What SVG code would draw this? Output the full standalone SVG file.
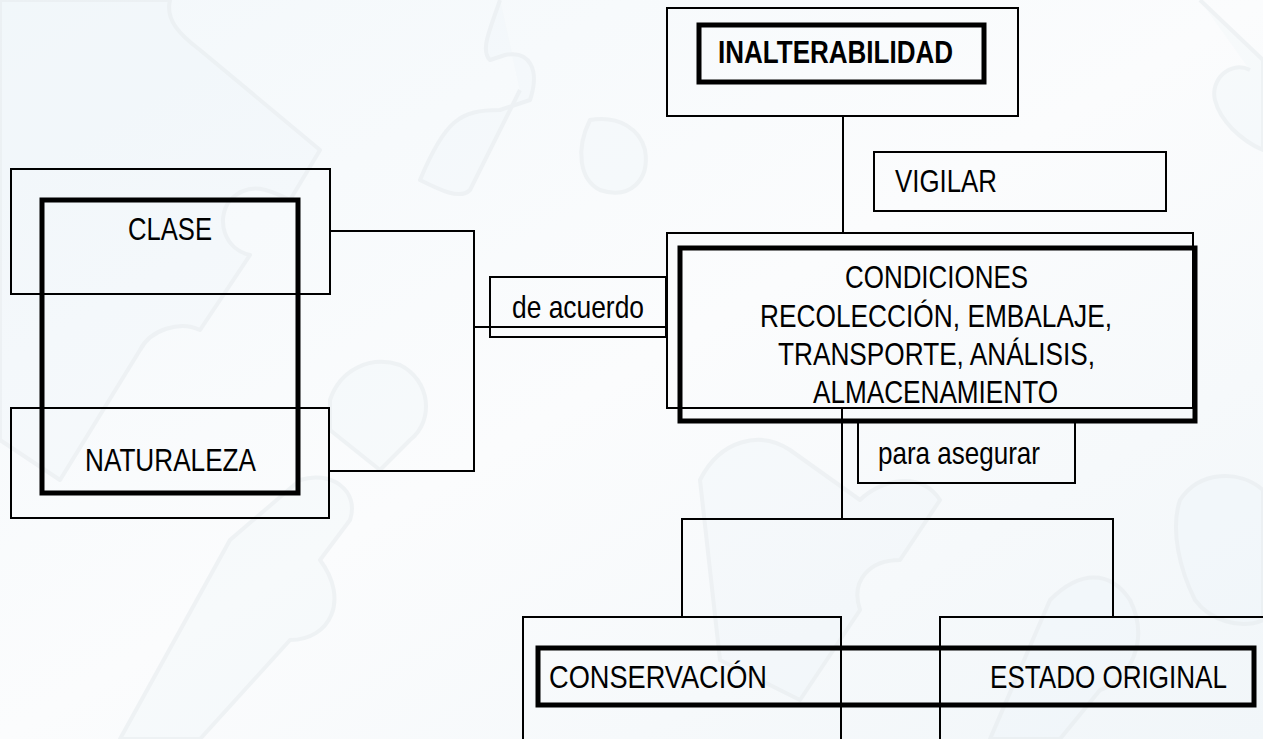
<svg xmlns="http://www.w3.org/2000/svg" width="1263" height="739" viewBox="0 0 1263 739">
  <defs>
    <linearGradient id="bg" x1="0" y1="0" x2="1" y2="1">
      <stop offset="0" stop-color="#f3f8fb"/>
      <stop offset="0.5" stop-color="#fbfcfd"/>
      <stop offset="1" stop-color="#f1f6f9"/>
    </linearGradient>
    <style>
      .thin { fill: none; stroke: #000; stroke-width: 2; }
      .thick { fill: none; stroke: #000; stroke-width: 5; }
      .conn { fill: none; stroke: #000; stroke-width: 2; }
      .lbl { font-family: "Liberation Sans", Arial, sans-serif; font-size: 30.5px; fill: #000; }
      .bold { font-weight: bold; }
      .puz { fill: #eef5f9; fill-opacity: 0.5; stroke: #e6ebee; stroke-width: 4; stroke-linejoin: round; }
    </style>
  </defs>

  <rect x="0" y="0" width="1263" height="739" fill="url(#bg)"/>

  <g id="background" opacity="0.55">
    <path class="puz" d="M170,0 C165,20 180,35 200,50 L320,150 L290,200 C270,190 250,180 230,200 C215,220 225,250 250,255 L200,330 C180,320 150,330 140,350 L60,480 L0,440 L0,0 Z"/>
    <path class="puz" d="M500,0 C490,30 480,50 490,60 L505,55 C530,50 540,70 530,100 L500,110 C460,110 445,120 420,180 C440,190 460,200 470,190 L520,90"/>
    <path class="puz" d="M590,120 C575,150 580,180 600,190 C630,200 650,180 645,150 C640,130 620,115 590,120 Z"/>
    <path class="puz" d="M330,400 C340,370 370,355 400,365 C430,380 435,420 410,440 L380,470 L330,430 Z"/>
    <path class="puz" d="M230,540 L300,480 C330,470 360,490 350,520 L320,560 C350,600 330,640 290,640 L200,739 L120,739 Z"/>
    <path class="puz" d="M700,480 C720,440 760,430 790,450 L860,500 C880,480 920,470 940,500 L900,560 C870,560 850,580 860,610 L800,700 L720,660 Z"/>
    <path class="puz" d="M1050,600 C1080,570 1110,570 1130,600 C1150,640 1130,680 1100,690 L1060,739 L990,739 Z"/>
    <path class="puz" d="M1200,0 L1263,60 L1263,150 C1240,140 1220,120 1215,100 C1210,80 1230,60 1250,70"/>
    <path class="puz" d="M1180,500 C1200,470 1240,470 1263,490 L1263,620 C1240,630 1210,620 1195,600 C1180,570 1170,530 1180,500 Z"/>
  </g>

  <g id="connectors">
    <polyline class="conn" points="330,231 474,231 474,471 330,471"/>
    <line class="conn" x1="474" y1="327" x2="666" y2="327"/>
    <line class="conn" x1="843" y1="116" x2="843" y2="233"/>
    <line class="conn" x1="842" y1="408" x2="842" y2="519"/>
    <polyline class="conn" points="682,617 682,519 1113,519 1113,617"/>
  </g>

  <g id="node-inalterabilidad">
    <rect class="thin" x="667" y="8" width="351" height="108"/>
    <rect class="thick" x="699" y="25" width="285" height="57"/>
    <text class="lbl bold" x="718" y="63" textLength="235" lengthAdjust="spacingAndGlyphs">INALTERABILIDAD</text>
  </g>

  <g id="node-vigilar">
    <rect class="thin" x="874" y="152" width="292" height="59"/>
    <text class="lbl" x="895" y="192" textLength="102" lengthAdjust="spacingAndGlyphs">VIGILAR</text>
  </g>

  <g id="node-clase">
    <rect class="thin" x="11" y="169" width="319" height="125"/>
    <text class="lbl" x="128" y="240" textLength="84" lengthAdjust="spacingAndGlyphs">CLASE</text>
  </g>

  <g id="node-naturaleza">
    <rect class="thin" x="11" y="408" width="318" height="110"/>
    <text class="lbl" x="85" y="471" textLength="171" lengthAdjust="spacingAndGlyphs">NATURALEZA</text>
  </g>

  <g id="group-clase-naturaleza">
    <rect class="thick" x="42" y="200" width="256" height="293"/>
  </g>

  <g id="node-de-acuerdo">
    <rect class="thin" x="490" y="277" width="176" height="60"/>
    <text class="lbl" x="512" y="318" textLength="132" lengthAdjust="spacingAndGlyphs">de acuerdo</text>
  </g>

  <g id="node-condiciones">
    <rect class="thin" x="667" y="233" width="526" height="175"/>
    <rect class="thick" x="680" y="248" width="515" height="173"/>
    <text class="lbl" x="845" y="288" textLength="183" lengthAdjust="spacingAndGlyphs">CONDICIONES</text>
    <text class="lbl" x="760" y="327" textLength="352" lengthAdjust="spacingAndGlyphs">RECOLECCIÓN, EMBALAJE,</text>
    <text class="lbl" x="778" y="365" textLength="317" lengthAdjust="spacingAndGlyphs">TRANSPORTE, ANÁLISIS,</text>
    <text class="lbl" x="813" y="403" textLength="245" lengthAdjust="spacingAndGlyphs">ALMACENAMIENTO</text>
  </g>

  <g id="node-para-asegurar">
    <polyline class="thin" points="858,421 858,483 1075,483 1075,421"/>
    <text class="lbl" x="878" y="464" textLength="162" lengthAdjust="spacingAndGlyphs">para asegurar</text>
  </g>

  <g id="node-conservacion">
    <polyline class="thin" points="523,739 523,617 841,617 841,739"/>
    <text class="lbl" x="549" y="688" textLength="218" lengthAdjust="spacingAndGlyphs">CONSERVACIÓN</text>
  </g>

  <g id="node-estado-original">
    <polyline class="thin" points="940,739 940,617 1263,617"/>
    <text class="lbl" x="990" y="688" textLength="237" lengthAdjust="spacingAndGlyphs">ESTADO ORIGINAL</text>
  </g>

  <g id="group-resultados">
    <rect class="thick" x="538" y="648" width="716" height="57"/>
  </g>
</svg>
